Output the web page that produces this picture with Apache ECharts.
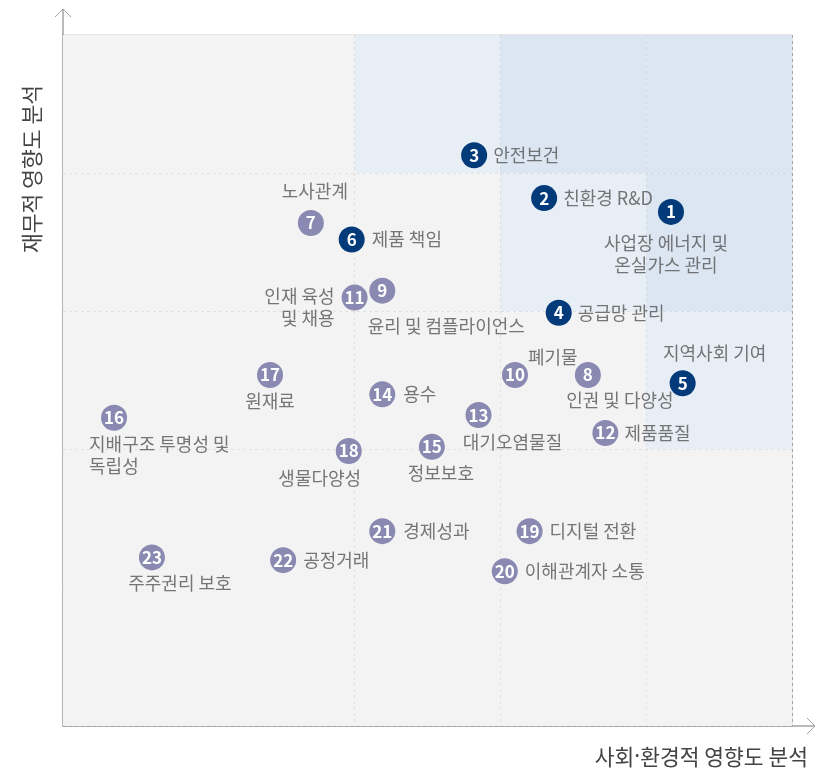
<!DOCTYPE html>
<html>
<head>
<meta charset="utf-8">
<script src="https://cdn.jsdelivr.net/npm/echarts@6/dist/echarts.min.js"></script>
<style>
  html, body { margin: 0; padding: 0; background: #fff; }
  #chart { width: 825px; height: 771px; }
</style>
</head>
<body>
<div id="chart"></div>
<script>
// 이슈 번호, 이름
const issueIds = [1, 2, 3, 4, 5, 6, 7, 8, 9, 10, 11, 12, 13, 14, 15, 16, 17, 18, 19, 20, 21, 22, 23];
const issueNames = [
  '사업장 에너지 및\n온실가스 관리', '친환경 R&D', '안전보건', '공급망 관리', '지역사회 기여', '제품 책임',
  '노사관계', '인권 및 다양성', '윤리 및 컴플라이언스', '폐기물', '인재 육성\n및 채용', '제품품질',
  '대기오염물질', '용수', '정보보호', '지배구조 투명성 및\n독립성', '원재료', '생물다양성',
  '디지털 전환', '이해관계자 소통', '경제성과', '공정거래', '주주권리 보호'
];
// x: 사회·환경적 영향도, y: 재무적 영향도 (0~5)
const socialScores = [4.17, 3.30, 2.82, 3.40, 4.25, 1.98, 1.70, 3.60, 2.19, 3.10, 2.00, 3.72, 2.85, 2.19, 2.53, 0.35, 1.42, 1.96, 3.20, 3.03, 2.19, 1.51, 0.61];
const financialScores = [3.72, 3.82, 4.13, 2.99, 2.48, 3.52, 3.64, 2.54, 3.15, 2.54, 3.10, 2.12, 2.25, 2.40, 2.02, 2.23, 2.54, 1.99, 1.41, 1.12, 1.41, 1.20, 1.22];
// 중대 이슈 (1~6)
const materialCount = 6;
// 배경 구역 단계 (위쪽 행부터)
const zoneLevels = [
  [0, 0, 1, 2, 2],
  [0, 0, 0, 1, 2],
  [0, 0, 0, 0, 1],
  [0, 0, 0, 0, 0],
  [0, 0, 0, 0, 0]
];

(function (w, d) {
  const zoneColors = ['#f3f3f3', '#e7eef6', '#dbe6f2'];
  const navy = '#023a7a';
  const purple = '#8a89b2';

  // 라벨 위치: [position, distance, offsetX, offsetY, align]
  const labelPlace = {
    1: ['bottom', 7, -5, 0],
    2: ['right', 6],
    3: ['right', 6],
    4: ['right', 6],
    5: ['top', 6, 32, 0],
    6: ['right', 7],
    7: ['top', 8, 4, 0],
    8: ['bottom', 1, 32, 0],
    9: ['bottom', 11, 64, 0],
    10: ['right', 5, -5, -18],
    11: ['left', 7, 0, 10],
    12: ['right', 6],
    13: ['bottom', 3, 34, 0],
    14: ['right', 8],
    15: ['bottom', 2, 9, 0],
    16: ['bottom', 2, -25, 0, 'left'],
    17: ['bottom', 2],
    18: ['bottom', 3, -29, 0],
    19: ['right', 7],
    20: ['right', 7],
    21: ['right', 8],
    22: ['right', 7],
    23: ['bottom', 2, 28, 0]
  };

  /* 방법：배경 구역 */
  function genZones() {
    const areas = [];
    zoneLevels.forEach((row, r) => {
      row.forEach((lv, c) => {
        areas.push([
          {coord: [c, 5 - r], itemStyle: {color: zoneColors[lv]}},
          {coord: [c + 1, 4 - r]}
        ]);
      });
    });
    return areas;
  }

  /* 방법：원 데이터 */
  function genDots(from, to) {
    const list = [];
    for (let i = from; i < to; i++) {
      list.push({value: [socialScores[i], financialScores[i]], name: String(issueIds[i])});
    }
    return list;
  }

  /* 방법：이름 라벨 데이터 */
  function genNames() {
    return issueIds.map((id, i) => {
      const p = labelPlace[id];
      const label = {
        position: p[0],
        distance: p[1],
        offset: [p[2] || 0, p[3] || 0]
      };
      if (p[4]) label.align = p[4];
      return {value: [socialScores[i], financialScores[i]], name: issueNames[i], label};
    });
  }

  const dotLabel = {
    show: true,
    position: 'inside',
    formatter: '{b}',
    color: '#fff',
    fontSize: 17,
    fontWeight: 'bold',
    fontFamily: 'Noto Sans CJK KR'
  };

  const axisColor = '#a3a3a3';
  const option = {
    animation: false,
    backgroundColor: '#fff',
    grid: {
      left: 63, top: 35, right: 33, bottom: 45,
      show: true,
      backgroundColor: 'transparent',
      borderColor: '#cfcfcf',
      borderWidth: 1
    },
    xAxis: {
      type: 'value', min: 0, max: 5, interval: 1,
      axisLabel: {show: false},
      axisTick: {show: false},
      axisLine: {show: true, lineStyle: {color: axisColor, width: 1.5}},
      splitLine: {show: true, lineStyle: {color: '#a6a6a6', type: [3, 3]}}
    },
    yAxis: {
      type: 'value', min: 0, max: 5, interval: 1,
      axisLabel: {show: false},
      axisTick: {show: false},
      axisLine: {show: true, lineStyle: {color: axisColor, width: 1.5}},
      splitLine: {show: true, lineStyle: {color: '#a6a6a6', type: [3, 3]}}
    },
    graphic: [
      {type: 'polyline', silent: true, shape: {points: [[63, 35], [63, 9]]}, style: {stroke: axisColor, lineWidth: 1.5, fill: null}},
      {type: 'polyline', silent: true, shape: {points: [[55, 17], [63, 9], [71, 17]]}, style: {stroke: axisColor, lineWidth: 1, fill: null}},
      {type: 'polyline', silent: true, shape: {points: [[792, 726], [815, 726]]}, style: {stroke: axisColor, lineWidth: 1.5, fill: null}},
      {type: 'polyline', silent: true, shape: {points: [[807, 718], [815, 726], [807, 734]]}, style: {stroke: axisColor, lineWidth: 1, fill: null}},
      {
        type: 'text', x: 808, y: 757, silent: true,
        style: {
          text: '사회{dot|·}환경적 영향도 분석', fontSize: 21.5, fill: '#444',
          fontFamily: 'Noto Sans CJK KR', align: 'right', verticalAlign: 'middle',
          rich: {dot: {fontFamily: 'Noto Sans', fontSize: 21.5, fill: '#444'}}
        }
      },
      {
        type: 'text', x: 32, y: 169, rotation: Math.PI / 2, silent: true,
        style: {text: '재무적 영향도 분석', fontSize: 21.5, fill: '#444', fontFamily: 'Noto Sans CJK KR', align: 'center', verticalAlign: 'middle'}
      }
    ],
    series: [
      {
        type: 'scatter', name: 'zones', z: -1, data: [], silent: true,
        markArea: {silent: true, data: genZones()}
      },
      {
        type: 'scatter', name: 'names', z: 3, symbolSize: 26, silent: true,
        itemStyle: {color: 'rgba(0,0,0,0)'},
        label: {
          show: true, formatter: '{b}', color: '#555', fontSize: 18, lineHeight: 22,
          fontFamily: 'Noto Sans CJK KR'
        },
        data: genNames()
      },
      {
        type: 'scatter', name: 'material', z: 4, symbolSize: 26,
        itemStyle: {color: navy, opacity: 1},
        label: dotLabel,
        data: genDots(0, materialCount)
      },
      {
        type: 'scatter', name: 'other', z: 4, symbolSize: 26,
        itemStyle: {color: purple, opacity: 1},
        label: dotLabel,
        data: genDots(materialCount, issueIds.length)
      }
    ]
  };

  const chart = w.echarts.init(d.getElementById('chart'));
  chart.setOption(option);
})(window, document);
</script>
</body>
</html>
